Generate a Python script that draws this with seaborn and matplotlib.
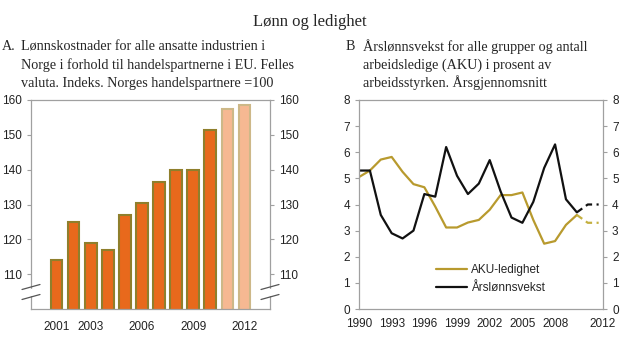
import matplotlib
matplotlib.use("Agg")
import matplotlib.pyplot as plt
import matplotlib.lines as mlines
import seaborn as sns
import pandas as pd

# ---------------- data ----------------
bar_years = [2001, 2002, 2003, 2004, 2005, 2006, 2007, 2008, 2009, 2010, 2011, 2012]
bar_values = [114, 125, 119, 117, 127, 130.5, 136.5, 140, 140, 151.5, 157.5, 158.5]
bar_kind = ["Faktisk"] * 10 + ["Anslag"] * 2
bar_xlabels = ["2001", "", "2003", "", "", "2006", "", "", "2009", "", "", "2012"]

line_years = list(range(1990, 2013))
aku = [5.05, 5.3, 5.72, 5.82, 5.25, 4.78, 4.66, 3.92, 3.12, 3.12, 3.31, 3.41,
       3.8, 4.36, 4.36, 4.46, 3.41, 2.5, 2.6, 3.22, 3.6, 3.3, 3.3]
wage = [5.3, 5.3, 3.6, 2.9, 2.7, 3.0, 4.4, 4.3, 6.2, 5.1, 4.4, 4.8,
        5.7, 4.5, 3.5, 3.3, 4.1, 5.4, 6.3, 4.2, 3.7, 4.0, 4.0]
last_actual_year = 2010

title = "Lønn og ledighet"
title_a = ["A.", "Lønnskostnader for alle ansatte industrien i",
           "Norge i forhold til handelspartnerne i EU. Felles",
           "valuta. Indeks. Norges handelspartnere =100"]
title_b = ["B", "Årslønnsvekst for alle grupper og antall",
           "arbeidsledige (AKU) i prosent av",
           "arbeidsstyrken. Årsgjennomsnitt"]

# ---------------- style ----------------
sns.set_style("white")
plt.rcParams["font.family"] = ["Liberation Sans", "DejaVu Sans"]
SPINE = "#a0a0a0"
TICKC = "#222222"
FS = 8.5

fig = plt.figure(figsize=(6.2, 3.53), dpi=100)
W, H = 620, 353


def ax_rect(x0, y0, x1, y1):
    return [x0 / W, 1 - y1 / H, (x1 - x0) / W, (y1 - y0) / H]


axA = fig.add_axes(ax_rect(31, 100, 270, 309))
axB = fig.add_axes(ax_rect(359, 100, 603, 309))

# ---------------- panel A ----------------
dfA = pd.DataFrame({"year": [str(y) for y in bar_years], "value": bar_values, "kind": bar_kind})
sns.barplot(data=dfA, x="year", y="value", hue="kind",
            palette={"Faktisk": "#e8691c", "Anslag": "#f6b892"},
            dodge=False, width=0.68, legend=False, ax=axA, saturation=1)
for p, k in zip(axA.patches, bar_kind):
    p.set_edgecolor("#8f7f2c" if k == "Faktisk" else "#cdb888")
    p.set_linewidth(1.5)

axA.set_ylim(100, 160)
axA.set_xlim(-1.5, 12.5)
axA.set_yticks([110, 120, 130, 140, 150, 160])
axA.set_xticks([1.5, 4.5, 7.5, 10.5])
axA.set_xticklabels([])
axA.set_xticks(range(len(bar_years)), minor=True)
axA.set_xticklabels(bar_xlabels, minor=True)
axA.tick_params(axis="x", which="minor", length=0, pad=9, labelsize=FS, colors=TICKC)
axA.tick_params(axis="x", which="major", length=3, color=SPINE, direction="out")
axA.tick_params(axis="y", left=True, right=True, labelleft=True, labelright=True,
                length=3, color=SPINE, labelsize=FS, labelcolor=TICKC, direction="out")
axA.set_xlabel("")
axA.set_ylabel("")

# ---------------- panel B ----------------
dfB = pd.DataFrame({
    "year": line_years * 2,
    "value": aku + wage,
    "serie": ["AKU-ledighet"] * len(line_years) + ["Årslønnsvekst"] * len(line_years),
})
pal = {"AKU-ledighet": "#b89a2e", "Årslønnsvekst": "#111111"}
sns.lineplot(data=dfB[dfB.year <= last_actual_year], x="year", y="value", hue="serie",
             palette=pal, linewidth=1.6, ax=axB)
sns.lineplot(data=dfB[dfB.year >= last_actual_year], x="year", y="value", hue="serie",
             palette={"AKU-ledighet": "#c4b040", "Årslønnsvekst": "#111111"},
             linewidth=1.6, ax=axB, legend=False, linestyle=(0, (3, 2)))

axB.set_xlim(1990, 2012.4)
axB.set_ylim(0, 8)
axB.set_yticks(range(0, 9))
xt = [1990, 1993, 1996, 1999, 2002, 2005, 2008, 2011, 2012.4]
axB.set_xticks(xt)
axB.set_xticklabels(["1990", "1993", "1996", "1999", "2002", "2005", "2008", "", "2012"])
axB.tick_params(axis="x", length=3, color=SPINE, labelsize=FS, labelcolor=TICKC, direction="out")
axB.tick_params(axis="y", left=True, right=True, labelleft=True, labelright=True,
                length=3, color=SPINE, labelsize=FS, labelcolor=TICKC, direction="out")
axB.set_xlabel("")
axB.set_ylabel("")
leg = axB.legend(loc="lower left", bbox_to_anchor=(0.27, 0.02), frameon=False,
                 fontsize=FS, handlelength=2.7, handletextpad=0.3, labelspacing=0.5)

for ax in (axA, axB):
    for s in ax.spines.values():
        s.set_color(SPINE)
        s.set_linewidth(0.9)

# ---------------- axis break marks on panel A ----------------
def break_marks(ax, xc_px, x0_ax_px, w_ax_px):
    for yc in (287, 297):
        for_y = [(309 - (yc + 2.5)) / 209, (309 - (yc - 2.5)) / 209]
        xs = [(xc_px - 9 - x0_ax_px) / w_ax_px, (xc_px + 9 - x0_ax_px) / w_ax_px]
        ax.add_line(mlines.Line2D(xs, for_y, transform=ax.transAxes, color="#555555",
                                  lw=0.9, clip_on=False, zorder=5))
    xs = (xc_px - x0_ax_px) / w_ax_px
    ax.add_line(mlines.Line2D([xs, xs], [(309 - 294) / 209, (309 - 290) / 209],
                              transform=ax.transAxes, color="white", lw=2.5,
                              clip_on=False, zorder=4))

break_marks(axA, 31, 31, 239)
break_marks(axA, 270, 31, 239)

# ---------------- texts ----------------
serif = ["Liberation Serif", "DejaVu Serif"]
TFS = 10.2
fig.text(310 / W, 1 - 22 / H, title, ha="center", va="center", fontsize=12, family=serif)
ys = [47, 65, 83]
fig.text(2 / W, 1 - ys[0] / H, title_a[0], ha="left", va="center", fontsize=TFS, family=serif)
for i, line in enumerate(title_a[1:]):
    fig.text(21 / W, 1 - ys[i] / H, line, ha="left", va="center", fontsize=TFS, family=serif)
fig.text(346 / W, 1 - ys[0] / H, title_b[0], ha="left", va="center", fontsize=TFS, family=serif)
for i, line in enumerate(title_b[1:]):
    fig.text(363 / W, 1 - ys[i] / H, line, ha="left", va="center", fontsize=TFS, family=serif)

fig.savefig("out.png", dpi=100)
